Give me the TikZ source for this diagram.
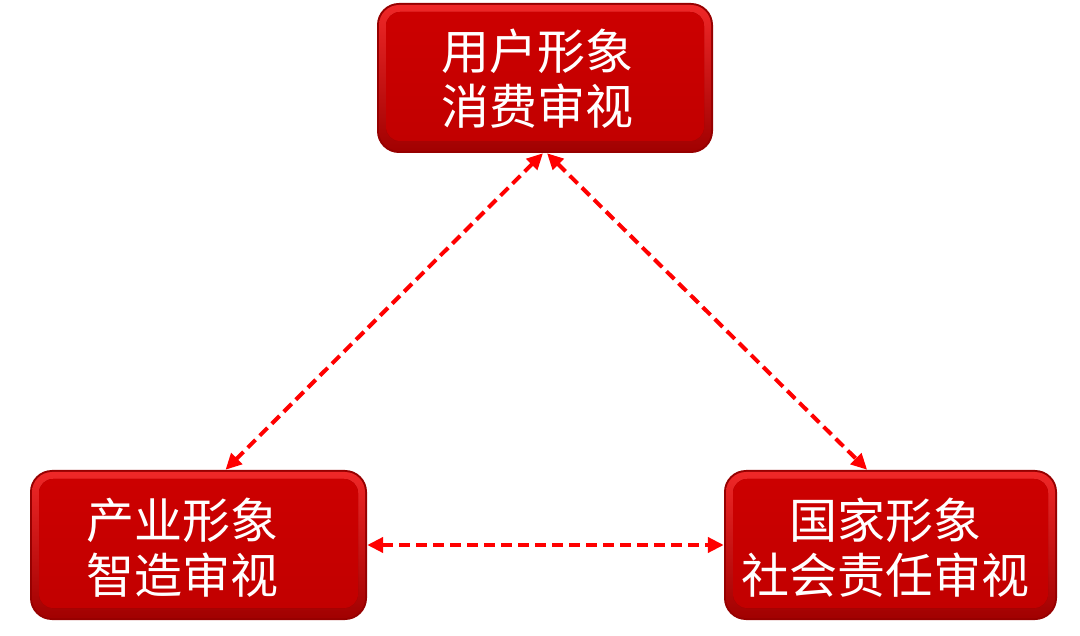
\documentclass[tikz,border=0pt]{standalone}
\usepackage{fontspec}
\newfontfamily\cjk{Noto Sans CJK SC}
\usetikzlibrary{arrows.meta,calc}
\definecolor{boxedge}{RGB}{150,0,0}
\definecolor{boxhi}{RGB}{240,40,40}
\definecolor{boxlo}{RGB}{160,0,0}
\definecolor{boxface}{RGB}{204,0,0}
\definecolor{boxfacelo}{RGB}{194,0,0}
\definecolor{linkred}{RGB}{255,0,0}
\tikzset{
  box/.style={shape=rectangle, rounded corners=22pt, fill=boxedge,
    minimum width=336pt, minimum height=150pt, inner sep=0pt,
    path picture={
      \fill[top color=boxhi, bottom color=boxlo, rounded corners=20pt]
        ([shift={(2pt,-2pt)}]path picture bounding box.north west) rectangle
        ([shift={(-2pt,2pt)}]path picture bounding box.south east);
      \fill[top color=boxface, bottom color=boxfacelo, rounded corners=14pt]
        ([shift={(9pt,-9pt)}]path picture bounding box.north west) rectangle
        ([shift={(-9pt,12pt)}]path picture bounding box.south east);
    }},
  label/.style={text=white, font=\cjk\fontsize{48}{55}\selectfont, align=center, inner sep=0pt},
  link/.style={draw=linkred, line width=4pt, dash pattern=on 11pt off 6pt,
    {Triangle[length=16pt,width=15pt]}-{Triangle[length=16pt,width=15pt]}}
}
\begin{document}
\begin{tikzpicture}[x=1pt,y=-1pt]
\useasboundingbox (0,0) rectangle (1080,636);
\node[box] (top) at (545,78) {};
\node[box, minimum width=337pt] (lb) at (198.5,545) {};
\node[box, minimum width=333pt] (rb) at (890.5,545) {};
\node[label] (toptext) at ([xshift=-8pt,yshift=-1pt]top.center) {用户形象\\消费审视};
\node[label] (lbtext) at ([xshift=-16pt,yshift=-3pt]lb.center) {产业形象\\智造审视};
\node[label] (rbtext) at ([xshift=-5pt,yshift=-3pt]rb.center) {国家形象\\社会责任审视};
\coordinate (lbend) at ($(lb.north west)!0.58!(lb.north east)$);
\coordinate (rbend) at ($(rb.north west)!0.43!(rb.north east)$);
\draw[link] ([xshift=-2pt]top.south) -- (lbend);
\draw[link] ([xshift=2pt]top.south) -- (rbend);
\draw[link] (lb.east) -- (rb.west);
\end{tikzpicture}
\end{document}
